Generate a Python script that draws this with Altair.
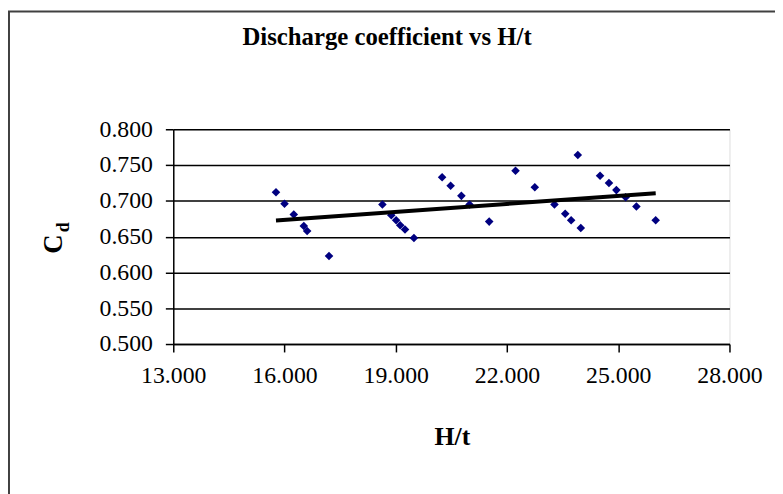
import altair as alt
import pandas as pd

ht = [15.77, 16.00, 16.25, 16.52, 16.61, 17.20, 18.64, 18.88, 19.01, 19.12,
      19.25, 19.49, 20.25, 20.48, 20.77, 20.99, 21.52, 22.23, 22.75, 23.28,
      23.57, 23.73, 23.99, 23.91, 24.51, 24.75, 24.95, 25.20, 25.49, 26.01]
cd = [0.712, 0.696, 0.681, 0.665, 0.658, 0.623, 0.695, 0.680, 0.673, 0.666,
      0.660, 0.648, 0.733, 0.721, 0.707, 0.695, 0.671, 0.742, 0.719, 0.695,
      0.682, 0.673, 0.662, 0.764, 0.735, 0.725, 0.715, 0.705, 0.692, 0.673]

title_text = "Discharge coefficient vs H/t"
x_title = "H/t"
y_title_main = "C"
y_title_sub = "d"
x_ticks = [13, 16, 19, 22, 25, 28]
y_ticks = [0.5, 0.55, 0.6, 0.65, 0.7, 0.75, 0.8]

df = pd.DataFrame({"ht": ht, "cd": cd})
FONT = "Liberation Serif"

xs = alt.Scale(domain=[13, 28], nice=False, zero=False)
ys = alt.Scale(domain=[0.5, 0.8], nice=False, zero=False)

x_axis = alt.Axis(
    values=x_ticks, format=".3f", title=None, grid=False, labelOverlap=False,
    labelFlush=False, labelBound=False,
    labelFont=FONT, labelFontSize=24, labelColor="black", labelPadding=12,
    tickColor="black", tickSize=8, domainColor="black", domainWidth=1.5, tickWidth=1.5)
y_axis = alt.Axis(
    values=y_ticks, format=".3f", title=None, grid=True, gridColor="black",
    gridWidth=1.5, gridOpacity=1, labelOverlap=False, tickCount=7,
    labelFlush=False, labelBound=False,
    labelFont=FONT, labelFontSize=24, labelColor="black", labelPadding=13,
    tickColor="black", tickSize=8, domainColor="black", domainWidth=1.5, tickWidth=1.5)

base = alt.Chart(df)

points = base.mark_point(shape="diamond", filled=True, color="#000080", size=75, opacity=1).encode(
    x=alt.X("ht:Q", scale=xs, axis=x_axis),
    y=alt.Y("cd:Q", scale=ys, axis=y_axis),
)

trend = base.transform_regression("ht", "cd").mark_line(color="black", strokeWidth=4).encode(
    x=alt.X("ht:Q", scale=xs, axis=x_axis), y=alt.Y("cd:Q", scale=ys, axis=y_axis))

tdf = pd.DataFrame({"t": [title_text]})
title = alt.Chart(tdf).mark_text(font=FONT, fontSize=25, fontWeight="bold", align="center",
                                 baseline="alphabetic", color="black").encode(
    text="t:N", x=alt.value(216), y=alt.value(-85))

xdf = pd.DataFrame({"t": [x_title]})
xt = alt.Chart(xdf).mark_text(font=FONT, fontSize=26, fontWeight="bold", align="center",
                              baseline="alphabetic", color="black").encode(
    text="t:N", x=alt.value(282), y=alt.value(319))

cdf = pd.DataFrame({"t": [y_title_main]})
yc = alt.Chart(cdf).mark_text(font=FONT, fontSize=27, fontWeight="bold", align="center",
                              baseline="middle", angle=270, color="black").encode(
    text="t:N", x=alt.value(-120), y=alt.value(116))
ddf = pd.DataFrame({"t": [y_title_sub]})
yd = alt.Chart(ddf).mark_text(font=FONT, fontSize=18, fontWeight="bold", align="center",
                              baseline="middle", angle=270, color="black").encode(
    text="t:N", x=alt.value(-110), y=alt.value(99))

fdf = pd.DataFrame({"t": [0]})
frame = alt.Chart(fdf).mark_rect(fill=None, stroke="#404040", strokeWidth=2).encode(
    x=alt.value(-166), y=alt.value(-119), x2=alt.value(700), y2=alt.value(500))

chart = alt.layer(points, frame, trend, title, xt, yc, yd).properties(
    width=562, height=217,
    autosize=alt.AutoSizeParams(type="none"),
    padding={"left": 167, "top": 120, "right": 46, "bottom": 149},
).configure_view(stroke="#808080", strokeWidth=2).configure(background="white")

chart.save("out.html", embed_options={"renderer": "svg", "actions": False})
